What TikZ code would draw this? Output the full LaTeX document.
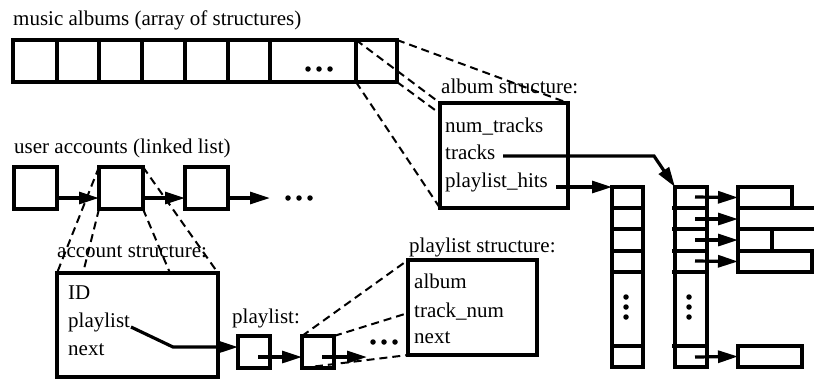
\documentclass[tikz,border=0pt]{standalone}
\usepackage{fontspec}
\setmainfont{Liberation Serif}
\usetikzlibrary{arrows.meta}
\begin{document}
\begin{tikzpicture}[x=1pt,y=-1pt,line join=miter,
  box/.style={draw,line width=3.2pt,fill=white,inner sep=0pt,outer sep=0pt,anchor=north west},
  lbl/.style={inner sep=0pt,anchor=base west,font=\fontsize{21}{25}\selectfont},
  zoomline/.style={line width=2pt,dash pattern=on 8pt off 5pt},
  link/.style={line width=3.2pt,-{Triangle[length=20pt,width=12pt]}},
  plain/.style={line width=3.2pt},
  dotc/.style={circle,fill,inner sep=0pt,minimum size=5.5pt}]
\useasboundingbox (0,0) rectangle (814,380);
% ---------- music albums array ----------
\node[lbl] (tmusic) at (13,25) {music albums (array of structures)};
\node[box,minimum width=44pt,minimum height=42pt] (a1) at (13,40) {};
\node[box,minimum width=42pt,minimum height=42pt] (a2) at (57,40) {};
\node[box,minimum width=43pt,minimum height=42pt] (a3) at (99,40) {};
\node[box,minimum width=43pt,minimum height=42pt] (a4) at (142,40) {};
\node[box,minimum width=43pt,minimum height=42pt] (a5) at (185,40) {};
\node[box,minimum width=42pt,minimum height=42pt] (a6) at (228,40) {};
\node[box,minimum width=86pt,minimum height=42pt] (a7) at (270,40) {};
\node[box,minimum width=41pt,minimum height=42pt] (a8) at (356,40) {};
\node[dotc] (ad1) at (308,69) {};
\node[dotc] (ad2) at (319,69) {};
\node[dotc] (ad3) at (330,69) {};
% ---------- album structure ----------
\coordinate (alnw) at (440,103);
\coordinate (alne) at (568,103);
\coordinate (alsw) at (440,208);
\coordinate (alse) at (568,208);
\draw[zoomline] (a8.north west) -- (alnw);
\draw[zoomline] (a8.north east) -- (alne);
\draw[zoomline] (a8.south west) -- (alsw);
\draw[zoomline] (a8.south east) -- (alse);
\node[box,minimum width=128pt,minimum height=105pt] (album) at (alnw) {};
\node[lbl] (talbum) at (441,93) {album structure:};
\node[lbl] (tnum) at (445,132) {num\_tracks};
\node[lbl] (ttracks) at (445,159) {tracks};
\node[lbl] (thits) at (445,187) {playlist\_hits};
% ---------- playlist_hits column ----------
\node[box,minimum width=31pt,minimum height=21pt] (h1) at (612,187) {};
\node[box,minimum width=31pt,minimum height=21pt] (h2) at (612,208) {};
\node[box,minimum width=31pt,minimum height=22pt] (h3) at (612,229) {};
\node[box,minimum width=31pt,minimum height=21pt] (h4) at (612,251) {};
\node[box,minimum width=31pt,minimum height=74pt] (h5) at (612,272) {};
\node[box,minimum width=31pt,minimum height=21pt] (h6) at (612,346) {};
\node[dotc] (hd1) at (626,297) {};
\node[dotc] (hd2) at (626,307) {};
\node[dotc] (hd3) at (626,317) {};
% ---------- tracks column ----------
\node[box,minimum width=32pt,minimum height=21pt] (t1) at (675,187) {};
\node[box,minimum width=32pt,minimum height=21pt] (t2) at (675,208) {};
\node[box,minimum width=32pt,minimum height=22pt] (t3) at (675,229) {};
\node[box,minimum width=32pt,minimum height=21pt] (t4) at (675,251) {};
\node[box,minimum width=32pt,minimum height=74pt] (t5) at (675,272) {};
\node[box,minimum width=32pt,minimum height=21pt] (t6) at (675,346) {};
\draw[plain] (672,208) -- (t2.north west);
\draw[plain] (672,229) -- (t3.north west);
\draw[plain] (672,251) -- (t4.north west);
\draw[plain] (672,272) -- (t5.north west);
\draw[plain] (672,346) -- (t6.north west);
\node[dotc] (td1) at (689,297) {};
\node[dotc] (td2) at (689,307) {};
\node[dotc] (td3) at (689,317) {};
% ---------- track records ----------
\node[box,minimum width=54pt,minimum height=21pt] (r1) at (738,187) {};
\node[box,minimum width=74pt,minimum height=21pt] (r4) at (738,251) {};
\node[box,minimum width=64pt,minimum height=21pt] (r6) at (738,346) {};
\coordinate (r2) at (738,219);
\coordinate (r3) at (738,240);
\draw[plain] (r1.south west) -- (814,208);
\draw[plain] (738,229) -- (814,229);
\draw[plain] (r1.south west) -- (r4.north west);
\draw[plain] (772,229) -- (772,251);
\coordinate (s1) at (695,197);
\coordinate (s2) at (695,219);
\coordinate (s3) at (695,240);
\coordinate (s4) at (695,261);
\coordinate (s6) at (695,357);
\draw[link] (s1) -- (r1.west);
\draw[link] (s2) -- (r2);
\draw[link] (s3) -- (r3);
\draw[link] (s4) -- (r4.west);
\draw[link] (s6) -- (r6.west);
% album pointers
\coordinate (trk) at (503,156);
\coordinate (hit) at (556,187);
\draw[link] (trk) -- (654,156) -- (t1.north west);
\draw[link] (hit) -- (h1.north west);
% ---------- user accounts ----------
\node[lbl] (tuser) at (14,153) {user accounts (linked list)};
\node[box,minimum width=43pt,minimum height=42pt] (u1) at (14,167) {};
\node[box,minimum width=44pt,minimum height=42pt] (u2) at (99,167) {};
\node[box,minimum width=43pt,minimum height=42pt] (u3) at (185,167) {};
\coordinate (u1a) at (57,198);
\coordinate (u2a) at (143,198);
\coordinate (u3a) at (228,198);
\coordinate (uend) at (270,198);
\draw[link] (u1a) -- (u2.west |- u1a);
\draw[link] (u2a) -- (u3.west |- u2a);
\draw[link] (u3a) -- (uend);
\node[dotc] (ud1) at (288,198) {};
\node[dotc] (ud2) at (299,198) {};
\node[dotc] (ud3) at (310,198) {};
% ---------- account structure ----------
\coordinate (acnw) at (57,273);
\coordinate (acne) at (218,273);
\coordinate (ac2) at (83,273);
\coordinate (ac3) at (170,273);
\draw[zoomline] (u2.north west) -- (acnw);
\draw[zoomline] (u2.south west) -- (ac2);
\draw[zoomline] (u2.south east) -- (ac3);
\draw[zoomline] (u2.north east) -- (acne);
\node[box,minimum width=161pt,minimum height=104pt] (acc) at (acnw) {};
\node[lbl] (tacc) at (57,257) {account structure:};
\node[lbl] (tid) at (68,299) {ID};
\node[lbl] (tpl) at (68,327) {playlist};
\node[lbl] (tnext) at (68,355) {next};
% ---------- playlist ----------
\node[lbl] (tplc) at (232,323) {playlist:};
\node[box,minimum width=32pt,minimum height=32pt] (p1) at (238,336) {};
\node[box,minimum width=32pt,minimum height=32pt] (p2) at (302,336) {};
\coordinate (pls) at (131,327);
\coordinate (plb) at (173,347);
\draw[link] (pls) -- (plb) -- (p1.west |- plb);
\coordinate (p1a) at (258,357);
\coordinate (p2a) at (322,357);
\coordinate (pend) at (367,357);
\draw[link] (p1a) -- (p2.west |- p1a);
\draw[link] (p2a) -- (pend);
\node[dotc] (pd1) at (373,342) {};
\node[dotc] (pd2) at (384,342) {};
\node[dotc] (pd3) at (395,342) {};
% ---------- playlist structure ----------
\coordinate (psnw) at (408,260);
\coordinate (ps2) at (408,313);
\coordinate (pssw) at (408,355);
\draw[zoomline] (p2.north west) -- (psnw);
\draw[zoomline] (p2.north east) -- (ps2);
\draw[zoomline] (p2.south west) -- (pssw);
\node[box,minimum width=129pt,minimum height=95pt] (pst) at (psnw) {};
\node[lbl] (tpst) at (409,252) {playlist structure:};
\node[lbl] (talb) at (414,288) {album};
\node[lbl] (ttn) at (414,317) {track\_num};
\node[lbl] (tpn) at (414,343) {next};
\end{tikzpicture}
\end{document}
